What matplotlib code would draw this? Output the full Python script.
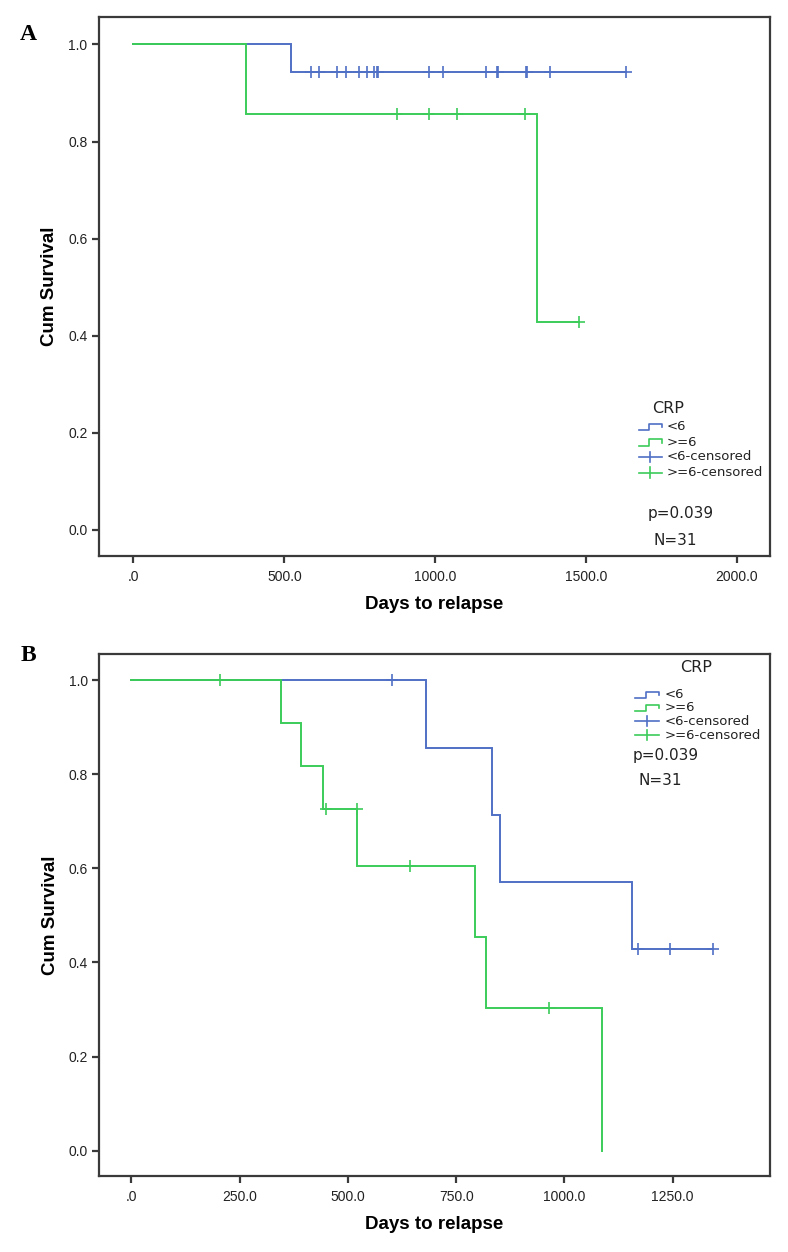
import numpy as np
import matplotlib
matplotlib.use("Agg")
import matplotlib.pyplot as plt
from matplotlib.lines import Line2D
from matplotlib import font_manager as fm
from matplotlib.ticker import FuncFormatter

# ---------------- data ----------------
# Panel A
a_lo_t = [0, 523, 1632]
a_lo_s = [1.0, 0.944, 0.944]
a_lo_cens = [588, 616, 673, 704, 746, 775, 798, 806, 811, 980, 1026, 1167,
             1204, 1207, 1301, 1305, 1380, 1632]
a_hi_t = [0, 374, 1336, 1476]
a_hi_s = [1.0, 0.857, 0.429, 0.429]
a_hi_cens = [872, 980, 1071, 1297, 1476]
a_xticks = [0, 500, 1000, 1500, 2000]

# Panel B
b_lo_t = [0, 681, 833, 852, 1157, 1343]
b_lo_s = [1.0, 0.857, 0.714, 0.571, 0.429, 0.429]
b_lo_cens = [602, 1170, 1245, 1343]
b_hi_t = [0, 345, 392, 443, 521, 793, 818, 1088]
b_hi_s = [1.0, 0.909, 0.818, 0.727, 0.606, 0.455, 0.303, 0.0]
b_hi_cens = [204, 449, 520, 643, 965]
b_xticks = [0, 250, 500, 750, 1000, 1250]

yticks = [0.0, 0.2, 0.4, 0.6, 0.8, 1.0]
legend_labels = ["<6", ">=6", "<6-censored", ">=6-censored"]
p_text = "p=0.039"
n_text = "N=31"

# ---------------- style ----------------
BLUE = "#5070c6"
GREEN = "#3ccc5a"
FRAME = "#3a3a3a"

avail = {f.name for f in fm.fontManager.ttflist}
NARROW = "Liberation Sans Narrow" if "Liberation Sans Narrow" in avail else "Liberation Sans"
plt.rcParams["font.family"] = [NARROW, "DejaVu Sans"]

W, H = 788, 1252
fig = plt.figure(figsize=(W / 100, H / 100), dpi=100)


def surv_at(t_arr, s_arr, t):
    idx = np.searchsorted(np.asarray(t_arr), t, side="right") - 1
    return np.asarray(s_arr)[idx]


def px_axes(x0, y0, x1, y1):
    return fig.add_axes([x0 / W, 1 - y1 / H, (x1 - x0) / W, (y1 - y0) / H])


def setup(ax, xlim, xticks):
    ax.set_xlim(*xlim)
    ax.set_ylim(-0.054, 1.056)
    ax.set_xticks(xticks)
    ax.set_yticks(yticks)
    ax.xaxis.set_major_formatter(FuncFormatter(lambda v, p: ".0" if v == 0 else f"{v:.1f}"))
    ax.yaxis.set_major_formatter(FuncFormatter(lambda v, p: f"{v:.1f}"))
    for s in ax.spines.values():
        s.set_color(FRAME)
        s.set_linewidth(1.6)
    ax.tick_params(direction="out", length=5, width=1.6, color=FRAME,
                   labelsize=10, labelcolor="#222222", pad=3)
    ax.tick_params(axis="x", pad=5)
    ax.set_xlabel("Days to relapse", fontsize=13.5, fontweight="bold", labelpad=9)
    ax.set_ylabel("Cum Survival", fontsize=13.5, fontweight="bold", labelpad=7)


def draw_km(ax, t, s, cens, color):
    ax.step(t, s, where="post", color=color, lw=1.4, solid_joinstyle="miter")
    cy = [surv_at(t, s, c) for c in cens]
    ax.plot(cens, cy, linestyle="none", marker="+", ms=8.5, mew=1.2, color=color)


def draw_legend(ax, cx_title, y_title, ys, sx0, sx1, tx, ytxt_p, ytxt_n, xp, hstep):
    tr = ax.transAxes
    ax.text(cx_title, y_title, "CRP", transform=tr, ha="center", va="center",
            fontsize=11.5, family=["DejaVu Sans"], color="#222222")
    colors = [BLUE, GREEN, BLUE, GREEN]
    for i, (lab, col, yy) in enumerate(zip(legend_labels, colors, ys)):
        if i < 2:
            w = sx1 - sx0
            xs = [sx0, sx0 + 0.45 * w, sx0 + 0.45 * w, sx1, sx1]
            ysym = [yy - hstep / 2, yy - hstep / 2, yy + hstep / 2, yy + hstep / 2, yy]
            ax.add_line(Line2D(xs, ysym, transform=tr, color=col, lw=1.2))
        else:
            ax.add_line(Line2D([sx0, sx1], [yy, yy], transform=tr, color=col, lw=1.2))
            xm = (sx0 + sx1) / 2
            ax.add_line(Line2D([xm, xm], [yy - hstep * 0.8, yy + hstep * 0.8], transform=tr,
                               color=col, lw=1.2))
        ax.text(tx, yy, lab, transform=tr, ha="left", va="center", fontsize=9.5,
                family=["DejaVu Sans"], color="#222222")
    ax.text(xp, ytxt_p, p_text, transform=tr, ha="left", va="center", fontsize=11,
            family=["DejaVu Sans"], color="#222222")
    ax.text(xp + 0.008, ytxt_n, n_text, transform=tr, ha="left", va="center",
            fontsize=11, family=["DejaVu Sans"], color="#222222")


# ---------------- Panel A ----------------
axA = px_axes(98.5, 17.3, 770, 556)
setup(axA, (-116, 2110), a_xticks)
draw_km(axA, a_lo_t, a_lo_s, a_lo_cens, BLUE)
draw_km(axA, a_hi_t, a_hi_s, a_hi_cens, GREEN)
draw_legend(axA, 0.848, 0.273, [0.2395, 0.2104, 0.1838, 0.1548],
            0.805, 0.839, 0.8466, 0.0798, 0.0297, 0.818, 0.012)

# ---------------- Panel B ----------------
axB = px_axes(99, 654, 770, 1176)
setup(axB, (-75, 1475), b_xticks)
draw_km(axB, b_lo_t, b_lo_s, b_lo_cens, BLUE)
draw_km(axB, b_hi_t, b_hi_s, b_hi_cens, GREEN)
draw_legend(axB, 0.8897, 0.975, [0.9215, 0.8966, 0.8716, 0.8448],
            0.7988, 0.8346, 0.8435, 0.8065, 0.7586, 0.7958, 0.012)

# panel letters
fig.text(28 / W, 1 - 35 / H, "A", fontsize=17, fontweight="bold",
         family=["Liberation Serif", "DejaVu Serif"], ha="center", va="center")
fig.text(28 / W, 1 - 655 / H, "B", fontsize=17, fontweight="bold",
         family=["Liberation Serif", "DejaVu Serif"], ha="center", va="center")

fig.savefig("out.png", dpi=100, facecolor="white")
